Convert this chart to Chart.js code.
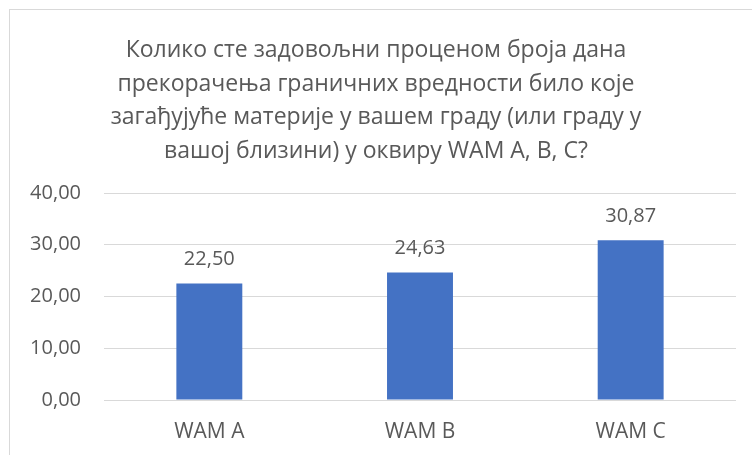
<!DOCTYPE html>
<html>
<head>
<meta charset="utf-8">
<script src="https://cdn.jsdelivr.net/npm/chart.js@4.4.1/dist/chart.umd.min.js"></script>
<style>
    html, body { margin: 0; padding: 0; background: #fff; }
    #wrap { position: relative; width: 752px; height: 455px; overflow: hidden; }
    #frame {
        position: absolute; left: 9px; top: 9px; width: 760px; height: 460px;
        border: 1px solid #d9d9d9; box-sizing: border-box;
    }
    canvas { position: absolute; left: 0; top: 0; }
</style>
</head>
<body>
<div id="wrap">
    <div id="frame"></div>
    <canvas id="chart" width="752" height="455"></canvas>
</div>
<script>
// Chart data
const TITLE_LINES = [
    "Колико сте задовољни проценом броја дана",
    "прекорачења граничних вредности било које",
    "загађујуће материје у вашем граду (или граду у",
    "вашој близини) у оквиру WAM A, B, C?",
];
const CATEGORIES = ["WAM A", "WAM B", "WAM C"];
const VALUES = [22.50, 24.63, 30.87];
const Y_TICKS = [0, 10, 20, 30, 40];

const TEXT_COLOR = "#595959";
const BAR_COLOR = "#4472C4";
const FONT = "'Open Sans', 'Noto Sans', sans-serif";

const fmt = (v) => v.toFixed(2).replace(".", ",");

// value labels above the bars
const barLabels = {
    id: "barLabels",
    afterDatasetsDraw(chart) {
        const ctx = chart.ctx;
        const meta = chart.getDatasetMeta(0);
        ctx.save();
        ctx.fillStyle = TEXT_COLOR;
        ctx.font = "20px " + FONT;
        ctx.textAlign = "center";
        ctx.textBaseline = "middle";
        meta.data.forEach((bar, i) => {
            ctx.fillText(fmt(VALUES[i]), bar.x, bar.y - 24);
        });
        ctx.restore();
    },
};

new Chart(document.getElementById("chart"), {
    type: "bar",
    data: {
        labels: CATEGORIES,
        datasets: [{
            data: VALUES,
            backgroundColor: BAR_COLOR,
            categoryPercentage: 1,
            barPercentage: 0.313,
        }],
    },
    options: {
        responsive: false,
        animation: false,
        layout: { padding: { left: 16, right: 16, top: 34, bottom: 0 } },
        plugins: {
            legend: { display: false },
            tooltip: { enabled: false },
            title: {
                display: true,
                text: TITLE_LINES,
                color: TEXT_COLOR,
                font: { family: FONT, size: 23, weight: "normal", lineHeight: 1.457 },
                padding: { top: 0, bottom: 25 },
            },
        },
        scales: {
            x: {
                afterFit: (scale) => { scale.height = 55; },
                grid: { display: false, drawTicks: false },
                border: { display: false },
                ticks: { color: TEXT_COLOR, font: { family: FONT, size: 21 }, padding: 19 },
            },
            y: {
                min: 0,
                max: 40,
                afterFit: (scale) => { scale.width = 88; },
                afterBuildTicks: (scale) => { scale.ticks = Y_TICKS.map((v) => ({ value: v })); },
                grid: { color: "#d9d9d9", drawTicks: false },
                border: { display: false },
                ticks: {
                    color: TEXT_COLOR,
                    font: { family: FONT, size: 20 },
                    padding: 23,
                    callback: (v) => fmt(v),
                },
            },
        },
    },
    plugins: [barLabels],
});
</script>
</body>
</html>
